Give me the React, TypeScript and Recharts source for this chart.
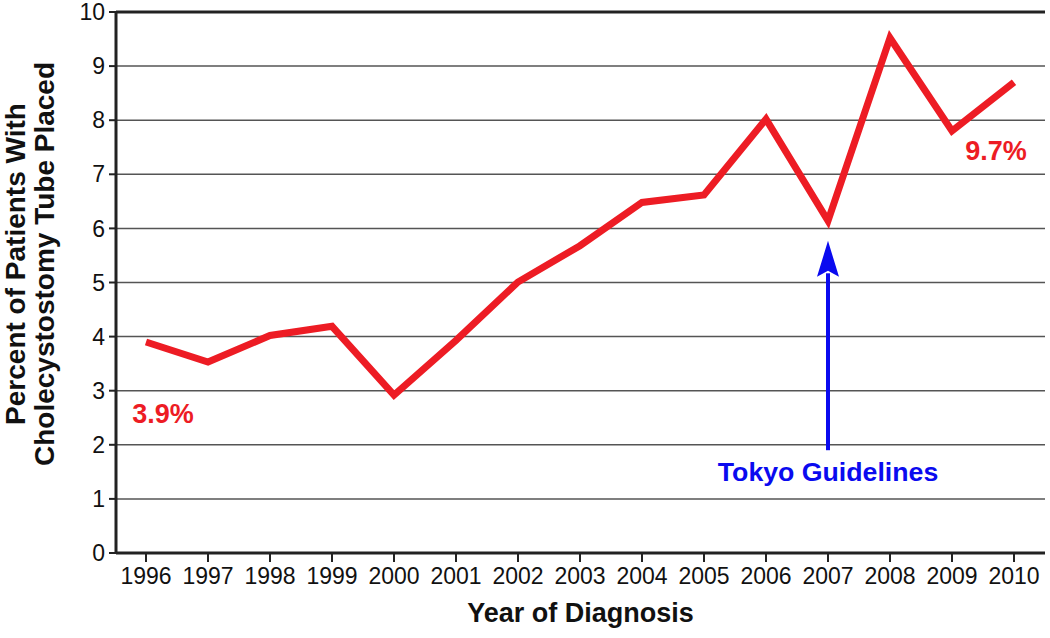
import {
  CartesianGrid,
  LabelList,
  Line,
  LineChart,
  ReferenceDot,
  ReferenceLine,
  XAxis,
  YAxis,
} from "recharts";

const years = [
  "1996", "1997", "1998", "1999", "2000", "2001", "2002", "2003",
  "2004", "2005", "2006", "2007", "2008", "2009", "2010",
];
const percentPlaced = [
  3.9, 3.53, 4.02, 4.19, 2.92, 3.93, 5.01, 5.68, 6.48, 6.62, 8.02, 6.14, 9.52,
  7.8, 8.7,
];
const yTicks = [0, 1, 2, 3, 4, 5, 6, 7, 8, 9, 10];
const endLabels = ["3.9%", "9.7%"];
const guidelineYear = "2007";
const guidelineText = "Tokyo Guidelines";
const arrowTip = 5.77;
const arrowTail = 1.9;
const guidelineTextY = 1.33;

const FONT = "'Liberation Sans', Arial, Helvetica, sans-serif";
const RED = "#ed1c24";
const BLUE = "#0a0aef";

const data = years.map((year, i) => ({ year, pct: percentPlaced[i] }));

function EndLabel(props: any) {
  const { x, y, index } = props;
  if (index === 0) {
    return (
      <text x={x + 17} y={y + 81} textAnchor="middle" fill={RED} fontFamily={FONT} fontWeight={700} fontSize={27}>
        {endLabels[0]}
      </text>
    );
  }
  if (index === years.length - 1) {
    return (
      <text x={x - 18} y={y + 78} textAnchor="middle" fill={RED} fontFamily={FONT} fontWeight={700} fontSize={27}>
        {endLabels[1]}
      </text>
    );
  }
  return null;
}

function ArrowHead(props: any) {
  const { cx, cy } = props;
  if (cx == null || cy == null) return <g />;
  return (
    <polygon
      points={`${cx},${cy} ${cx + 11},${cy + 36} ${cx},${cy + 30} ${cx - 11},${cy + 36}`}
      fill={BLUE}
    />
  );
}

function GuidelineLabel(props: any) {
  const { cx, cy } = props;
  if (cx == null || cy == null) return <g />;
  return (
    <text x={cx} y={cy} textAnchor="middle" fill={BLUE} fontFamily={FONT} fontWeight={700} fontSize={26.7}>
      {guidelineText}
    </text>
  );
}

function YTitle() {
  return (
    <g transform="translate(25, 264) rotate(-90)">
      <text x={0} y={0} textAnchor="middle" fontFamily={FONT} fontWeight={700} fontSize={28} fill="#111">
        Percent of Patients With
      </text>
      <text x={0} y={29} textAnchor="middle" fontFamily={FONT} fontWeight={700} fontSize={28} fill="#111">
        Cholecystostomy Tube Placed
      </text>
    </g>
  );
}

export default function App() {
  return (
    <div style={{ position: "absolute", left: 0, top: 0, width: 1050, height: 638, background: "#fff" }}>
      <LineChart
        width={1050}
        height={638}
        data={data}
        margin={{ top: 12, right: 5, bottom: 0, left: 0 }}
      >
        <CartesianGrid horizontal vertical={false} stroke="#555" strokeWidth={1.5} />
        <XAxis
          dataKey="year"
          padding={{ left: 30, right: 31 }}
          axisLine={{ stroke: "#222", strokeWidth: 3 }}
          tickLine={{ stroke: "#222", strokeWidth: 2 }}
          tickSize={9}
          tick={{ fill: "#111", fontSize: 23, fontFamily: FONT }}
          tickMargin={6}
          interval={0}
          height={85}
          label={{
            value: "Year of Diagnosis",
            position: "insideBottom",
            offset: 16,
            fill: "#111",
            fontSize: 27,
            fontWeight: 700,
            fontFamily: FONT,
          }}
        />
        <YAxis
          domain={[0, 10]}
          ticks={yTicks}
          width={116}
          axisLine={{ stroke: "#222", strokeWidth: 3 }}
          tickLine={{ stroke: "#222", strokeWidth: 2 }}
          tickSize={7}
          tickMargin={4}
          tick={{ fill: "#111", fontSize: 23, fontFamily: FONT }}
          interval={0}
          label={{ content: () => <YTitle /> }}
        />
        <YAxis
          yAxisId="frame"
          orientation="right"
          domain={[0, 10]}
          width={0}
          tick={false}
          tickLine={false}
          axisLine={{ stroke: "#222", strokeWidth: 3 }}
        />
        <ReferenceLine y={10} stroke="#222" strokeWidth={3} />
        <ReferenceLine
          segment={[
            { x: guidelineYear, y: arrowTail },
            { x: guidelineYear, y: arrowTip - 0.6 },
          ]}
          stroke={BLUE}
          strokeWidth={4}
        />
        <ReferenceDot x={guidelineYear} y={arrowTip} r={0} shape={ArrowHead} />
        <ReferenceDot x={guidelineYear} y={guidelineTextY} r={0} shape={GuidelineLabel} />
        <Line
          type="linear"
          dataKey="pct"
          stroke={RED}
          strokeWidth={7}
          dot={false}
          activeDot={false}
          isAnimationActive={false}
        >
          <LabelList dataKey="pct" content={EndLabel} />
        </Line>
      </LineChart>
    </div>
  );
}
